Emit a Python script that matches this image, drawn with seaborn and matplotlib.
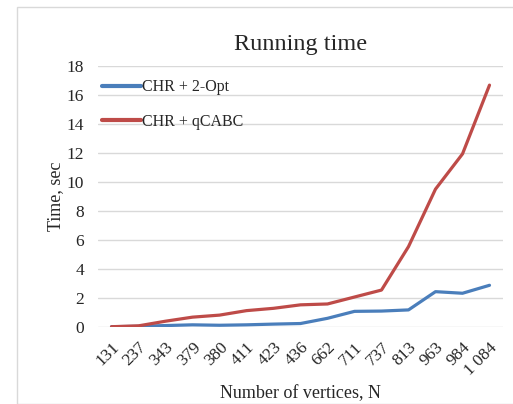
import pandas as pd
import matplotlib.pyplot as plt
import seaborn as sns
from matplotlib.patches import Rectangle

vertices = ['131', '237', '343', '379', '380', '411', '423', '436',
            '662', '711', '737', '813', '963', '984', '1 084']
opt2 = [0.02, 0.05, 0.1, 0.15, 0.12, 0.15, 0.2, 0.24,
        0.6, 1.08, 1.1, 1.18, 2.44, 2.33, 2.88]
qcabc = [0.02, 0.08, 0.4, 0.68, 0.82, 1.13, 1.29, 1.53,
         1.59, 2.07, 2.55, 5.55, 9.52, 11.95, 16.7]

df = pd.DataFrame({
    'N': vertices * 2,
    'time': opt2 + qcabc,
    'method': ['CHR + 2-Opt'] * len(vertices) + ['CHR + qCABC'] * len(vertices),
})

sns.set_style('white')
plt.rcParams['font.family'] = ['Liberation Serif', 'DejaVu Serif']

fig = plt.figure(figsize=(5.13, 4.04), dpi=100)
ax = fig.add_axes([98 / 513, 1 - 327 / 404, 405 / 513, (327 - 66.3) / 404])

# chart frame like Excel
fig.patches.append(Rectangle((17 / 513, 0), 1, 1 - 7 / 404, transform=fig.transFigure,
                             fill=False, edgecolor='#d9d9d9', linewidth=1))

sns.lineplot(data=df, x='N', y='time', hue='method', sort=False,
             palette=['#4a7ebb', '#be4b48'], linewidth=2.3, ax=ax)

ax.set_ylim(0, 18)
ax.set_xlim(-0.5, 14.5)
ax.set_yticks(range(0, 19, 2))
ax.yaxis.grid(True, color='#d9d9d9', linewidth=1)
ax.set_axisbelow(True)
for s in ax.spines.values():
    s.set_visible(False)
ax.tick_params(axis='both', length=0, labelsize=12.5)
ax.tick_params(axis='y', pad=10)
plt.setp(ax.get_xticklabels(), rotation=45, ha='right', rotation_mode='anchor')
ax.tick_params(axis='x', pad=9)

ax.set_title('Running time', fontsize=17.5, pad=12)
ax.set_xlabel('Number of vertices, N', fontsize=13, labelpad=5)
ax.set_ylabel('Time, sec', fontsize=13, labelpad=2)

leg = ax.legend(loc='upper left', bbox_to_anchor=(-0.025, 1.005), frameon=False,
                fontsize=11.5, handlelength=2.4, handletextpad=0.1, labelspacing=1.15)
for line in leg.get_lines():
    line.set_linewidth(3)

fig.savefig('out.png', dpi=100)
